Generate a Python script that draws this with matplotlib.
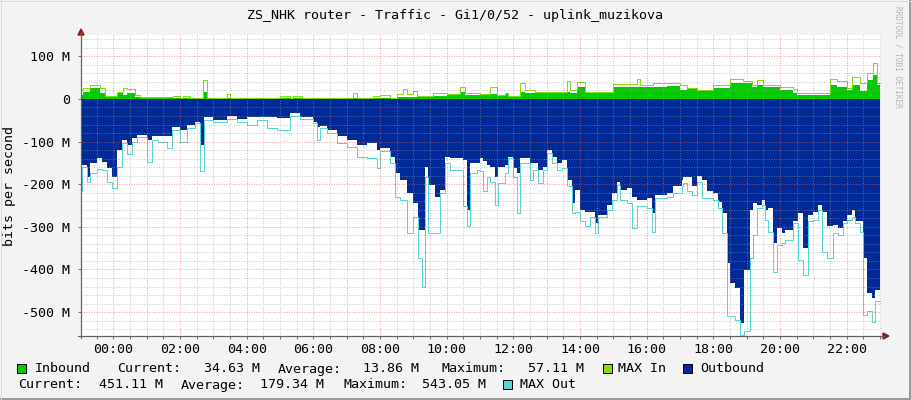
import matplotlib
matplotlib.use("Agg")
import matplotlib.pyplot as plt
from matplotlib.lines import Line2D
from matplotlib.patches import Polygon, Rectangle
import numpy as np

# --- data (hours relative to midnight, values in Mbit/s) ---
out_t = [-1.00, -0.95, -0.80, -0.70, -0.50, -0.35, -0.20, -0.05, 0.10, 0.25,
         0.40, 0.55, 0.70, 1.00, 1.15, 1.35, 1.60, 1.75, 2.00, 2.20,
         2.45, 2.60, 2.72, 3.00, 3.40, 3.70, 4.00, 4.30, 4.60, 4.90,
         5.30, 5.60, 6.00, 6.10, 6.20, 6.40, 6.70, 7.00, 7.30, 7.60,
         7.90, 8.00, 8.30, 8.45, 8.60, 8.80, 9.00, 9.15, 9.25, 9.35,
         9.45, 9.65, 9.80, 9.95, 10.10, 10.50, 10.60, 10.70, 10.90, 11.00,
         11.10, 11.20, 11.30, 11.45, 11.55, 11.75, 11.85, 12.00, 12.10, 12.20,
         12.50, 12.60, 12.75, 12.90, 13.00, 13.15, 13.30, 13.45, 13.60, 13.75,
         13.85, 14.00, 14.15, 14.30, 14.45, 14.55, 14.80, 14.95, 15.10, 15.20,
         15.40, 15.55, 15.70, 16.00, 16.15, 16.25, 16.60, 16.80, 17.05, 17.10,
         17.20, 17.35, 17.50, 17.65, 17.80, 18.00, 18.15, 18.25, 18.40, 18.50,
         18.65, 18.80, 18.92, 19.10, 19.20, 19.32, 19.45, 19.55, 19.65, 19.80,
         19.90, 20.05, 20.15, 20.40, 20.55, 20.70, 20.85, 21.00, 21.15, 21.25,
         21.40, 21.60, 21.75, 21.90, 22.00, 22.15, 22.25, 22.40, 22.50, 22.60,
         22.75, 22.85]
outbound = [-186, -155, -182, -151, -139, -147, -162, -182, -120, -96,
            -108, -92, -84, -96, -88, -87, -88, -65, -73, -61,
            -53, -108, -43, -49, -40, -48, -43, -43, -43, -45,
            -34, -43, -53, -65, -63, -73, -88, -96, -108, -104,
            -120, -116, -135, -174, -190, -221, -245, -307, -307, -159,
            -202, -229, -213, -135, -139, -143, -260, -151, -151, -139,
            -145, -155, -159, -182, -159, -155, -135, -162, -174, -139,
            -151, -151, -166, -159, -120, -135, -151, -143, -190, -245,
            -213, -260, -264, -264, -291, -272, -248, -221, -194, -213,
            -209, -229, -237, -233, -268, -225, -221, -205, -190, -182,
            -182, -205, -180, -190, -217, -221, -241, -268, -385, -432,
            -444, -526, -401, -260, -245, -248, -237, -260, -256, -338,
            -303, -315, -307, -287, -268, -350, -272, -264, -248, -264,
            -299, -295, -303, -287, -272, -260, -287, -287, -373, -456,
            -467, -448]
max_out = [-217, -159, -194, -174, -165, -166, -194, -209, -159, -104,
           -129, -100, -90, -147, -96, -100, -116, -73, -100, -69,
           -57, -170, -49, -55, -48, -53, -61, -49, -69, -73,
           -40, -48, -57, -96, -69, -80, -104, -112, -135, -139,
           -162, -123, -151, -229, -237, -315, -276, -373, -440, -182,
           -315, -315, -221, -151, -166, -252, -299, -174, -166, -170,
           -217, -182, -194, -248, -198, -174, -139, -182, -268, -151,
           -190, -166, -198, -166, -127, -151, -166, -162, -205, -268,
           -264, -287, -299, -276, -315, -276, -260, -237, -202, -237,
           -245, -303, -252, -256, -311, -233, -229, -221, -205, -198,
           -217, -225, -194, -233, -233, -237, -256, -315, -510, -510,
           -518, -553, -545, -373, -319, -256, -248, -284, -311, -405,
           -342, -338, -330, -291, -377, -412, -287, -284, -260, -358,
           -373, -315, -319, -291, -284, -276, -291, -311, -506, -498,
           -523, -475]

in_t = [-1.00, -0.90, -0.70, -0.40, -0.25, 0.10, 0.30, 0.40, 0.65, 0.80,
        1.80, 2.00, 2.10, 2.30, 2.70, 2.80, 3.40, 3.50, 5.00, 5.30,
        5.40, 5.65, 7.20, 7.30, 7.80, 8.00, 8.30, 8.50, 8.70, 8.80,
        9.00, 9.10, 9.60, 10.00, 10.40, 10.55, 11.00, 11.30, 11.50, 11.75,
        11.85, 12.20, 12.35, 12.65, 13.60, 13.70, 13.90, 14.15, 15.00, 15.20,
        15.70, 15.80, 16.20, 16.60, 17.00, 17.20, 17.50, 18.00, 18.50, 18.90,
        19.15, 19.30, 19.50, 20.00, 20.40, 20.50, 21.50, 21.70, 22.00, 22.15,
        22.40, 22.60, 22.80, 22.90]
inbound = [9, 17, 25, 13, 5, 13, 9, 13, 5, 2,
           3, 2, 3, 2, 17, 2, 2, 2, 3, 2,
           3, 2, 3, 2, 3, 3, 3, 5, 5, 5,
           5, 5, 8, 9, 17, 9, 9, 11, 8, 12,
           7, 17, 13, 13, 17, 13, 29, 16, 27, 29,
           29, 27, 29, 30, 21, 23, 19, 25, 37, 37,
           29, 33, 27, 21, 13, 9, 33, 29, 21, 33,
           19, 45, 56, 33]
max_in = [21, 25, 33, 25, 7, 17, 25, 23, 9, 4,
          8, 3, 8, 2, 45, 2, 11, 2, 8, 3,
          8, 3, 13, 3, 7, 9, 3, 12, 23, 12,
          19, 7, 15, 12, 27, 13, 12, 29, 9, 13,
          8, 37, 20, 16, 41, 20, 39, 17, 34, 35,
          46, 33, 37, 38, 33, 25, 21, 33, 46, 41,
          33, 45, 33, 27, 23, 15, 46, 41, 25, 52,
          37, 62, 84, 37]

t_end = 23.0
hour_ticks = [0, 2, 4, 6, 8, 10, 12, 14, 16, 18, 20, 22]
hour_labels = ["%02d:00" % h for h in hour_ticks]
y_ticks = [100, 0, -100, -200, -300, -400, -500]
y_labels = ["100 M", "0", "-100 M", "-200 M", "-300 M", "-400 M", "-500 M"]

legend_row1 = [("Inbound", 35), ("Current:", 117), ("34.63 M", 204), ("Average:", 278),
               ("13.86 M", 363), ("Maximum:", 441), ("57.11 M", 528),
               ("MAX In", 618), ("Outbound", 700)]
legend_row2 = [("Current:", 18), ("451.11 M", 99), ("Average:", 181), ("179.34 M", 260),
               ("Maximum:", 343), ("543.05 M", 422), ("MAX Out", 520)]

C_IN = "#00CC00"
C_MAXIN = "#80E000"
C_OUT = "#002A97"
C_MAXOUT = "#55D6D3"

W, H = 911, 400
plt.rcParams["font.family"] = ["DejaVu Sans Mono"]
FS = 9.6
PX = 72 / 100  # one pixel in points

fig = plt.figure(figsize=(W / 100, H / 100), dpi=100, facecolor="#F3F3F3")
ax = fig.add_axes([81 / W, 1 - 336 / H, 800 / W, 301 / H])
ax.set_facecolor("white")


def ext(t, v):
    return np.append(t, t_end), np.append(v, v[-1])


ot, ov = ext(out_t, outbound)
_, mo = ext(out_t, max_out)
it, iv = ext(in_t, inbound)
_, mi = ext(in_t, max_in)

ax.fill_between(ot, ov, 0, step="post", color=C_OUT, lw=0, zorder=1)
ax.fill_between(it, iv, 0, step="post", color=C_IN, lw=0, zorder=1)
ax.step(ot, mo, where="post", color=C_MAXOUT, lw=PX, zorder=2)
ax.step(it, mi, where="post", color=C_MAXIN, lw=PX, zorder=2)

ax.set_xlim(-0.97, 23.03)
ax.set_ylim(-556, 150)

# grid: minor grey, major red, dotted and drawn above the data like rrdtool
grid_kw = dict(lw=PX, ls=(0, (1, 1.5)), zorder=3)
for h in np.arange(-0.5, 23.01, 0.5):
    if h % 2 != 0:
        ax.axvline(h, color="#A0A0A0", alpha=0.55, **grid_kw)
for h in hour_ticks:
    ax.axvline(h, color="#F06060", alpha=0.6, **grid_kw)
for v in np.arange(-540, 150, 20):
    if v % 100 != 0:
        ax.axhline(v, color="#A0A0A0", alpha=0.55, **grid_kw)
for v in y_ticks:
    if v != 0:
        ax.axhline(v, color="#F06060", alpha=0.6, **grid_kw)

ax.set_xticks(hour_ticks)
ax.set_xticklabels(hour_labels, fontsize=FS)
ax.set_yticks(y_ticks)
ax.set_yticklabels(y_labels, fontsize=FS)
ax.set_xticks(np.arange(-0.5, 23.01, 0.5), minor=True)
ax.tick_params(axis="both", which="both", direction="out", length=2,
               width=PX, color="#707070")
ax.tick_params(axis="x", pad=3)
ax.tick_params(axis="y", pad=6)
for s in ax.spines.values():
    s.set_visible(False)


def fx(x):
    return x / W


def fy(y):
    return 1 - y / H


# axis lines with arrows
fig.add_artist(Line2D([fx(81), fx(81)], [fy(338), fy(32)], color="#606060", lw=PX * 1.2))
fig.add_artist(Line2D([fx(78), fx(884)], [fy(336), fy(336)], color="#606060", lw=PX * 1.2))
fig.add_artist(Polygon([[fx(78), fy(35)], [fx(84), fy(35)], [fx(81), fy(29)]],
                       closed=True, color="#8B1A1A", transform=fig.transFigure))
fig.add_artist(Polygon([[fx(883), fy(333)], [fx(883), fy(339)], [fx(889), fy(336)]],
                       closed=True, color="#8B1A1A", transform=fig.transFigure))

fig.text(fx(455), fy(15), "ZS_NHK router - Traffic - Gi1/0/52 - uplink_muzikova",
         ha="center", va="center", fontsize=FS)
fig.text(fx(10), fy(186), "bits per second", rotation=90, ha="center", va="center", fontsize=FS)
fig.text(fx(898), fy(6), "RRDTOOL / TOBI OETIKER", rotation=270, ha="center", va="top",
         fontsize=5.6, color="#B4B4B4")

# legend
for txt, x in legend_row1:
    fig.text(fx(x), fy(369), txt, ha="left", va="center", fontsize=FS)
for txt, x in legend_row2:
    fig.text(fx(x), fy(385), txt, ha="left", va="center", fontsize=FS)
for x, y, c in [(17, 364, C_IN), (603, 364, C_MAXIN), (683, 364, C_OUT), (503, 380, C_MAXOUT)]:
    fig.add_artist(Rectangle((fx(x), fy(y + 9)), 9 / W, 9 / H, facecolor=c,
                             edgecolor="black", lw=PX, transform=fig.transFigure))

# frame
fig.add_artist(Line2D([0, 1], [fy(399), fy(399)], color="#999999", lw=PX * 2))
fig.add_artist(Line2D([fx(910), fx(910)], [0, 1], color="#999999", lw=PX * 2))
fig.add_artist(Line2D([0, 1], [fy(0.5), fy(0.5)], color="#DADADA", lw=PX))
fig.add_artist(Line2D([fx(0.5), fx(0.5)], [0, 1], color="#DADADA", lw=PX))

fig.savefig("out.png", dpi=100, facecolor=fig.get_facecolor())
